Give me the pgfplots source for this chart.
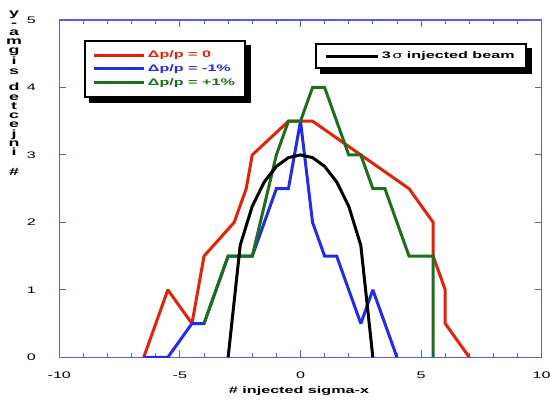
\documentclass[border=0pt]{standalone}
\usepackage{pgfplots}
\pgfplotsset{compat=1.18}
\usepackage{fontspec}
\setmainfont{Liberation Sans}[FakeStretch=1.7]
\definecolor{cred}{RGB}{225,35,10}
\definecolor{cblue}{RGB}{35,45,230}
\definecolor{cgreen}{RGB}{30,110,30}
\definecolor{caxis}{RGB}{85,95,228}
\pgfdeclarelayer{shadow}
\pgfsetlayers{shadow,main}
\begin{document}
\begin{tikzpicture}[x=1pt,y=1pt]
\useasboundingbox (-59.3,-46.7) rectangle (490.7,357.3);
\pgfplotsset{
  common/.style={
    width=482.4pt, height=337.3pt, scale only axis,
    at={(0pt,0pt)}, anchor=south west,
    xmin=-10, xmax=10, ymin=0, ymax=5,
  },
  ser/.style={line width=3pt, miter limit=2},
}
\begin{axis}[common,
  xtick={-10,-5,0,5,10},
  minor x tick num=4,
  ytick={0,1,2,3,4,5},
  tick align=inside,
  axis line style={caxis, line width=1.2pt},
  every tick/.style={caxis, line width=0.9pt},
  major tick length=7pt, minor tick length=4pt,
  tick label style={font=\fontsize{9.5}{11}\selectfont},
  /pgf/number format/assume math mode=true,
  xticklabel style={yshift=-11pt},
  yticklabel style={xshift=-20pt},
  xlabel={\bfseries\# injected sigma-x},
  xlabel style={at={(rel axis cs:0.5,0)}, anchor=base, yshift=-36pt, xshift=-1.5pt, font=\fontsize{9.5}{11}\selectfont},
  legend style={name=leg1, at={(rel axis cs:0.051,0.941)}, anchor=north west,
    draw=black, line width=2pt, fill=white,
    font=\bfseries\fontsize{9.5}{11}\selectfont,
    inner xsep=8pt, inner ysep=8pt, row sep=1.5pt,
    nodes={inner sep=2pt}},
  legend cell align=left,
  legend image code/.code={\draw[#1] (0pt,0pt) -- (50pt,0pt);},
]
\addplot[cred, ser] coordinates {
  (-6.5,0) (-5.5,1) (-4.5,0.5) (-4,1.5) (-2.75,2) (-2.25,2.5) (-2,3)
  (-0.5,3.5) (0.5,3.5) (2.5,3) (4.5,2.5) (5.5,2) (5.5,1.5) (6,1) (6,0.5) (7,0)};
\addlegendentry{\textcolor{cred}{Δp/p = 0}}
\addplot[cblue, ser] coordinates {
  (-6.5,0) (-5.5,0) (-4.5,0.5) (-4,0.5) (-3,1.5) (-2,1.5) (-1,2.5) (-0.5,2.5)
  (0,3.5) (0.5,2) (1,1.5) (1.5,1.5) (2.5,0.5) (3,1) (4,0)};
\addlegendentry{\textcolor{cblue}{Δp/p = -1\%}}
\addplot[cgreen, ser] coordinates {
  (-4,0.5) (-3,1.5) (-2,1.5) (-1,3) (-0.5,3.5) (0,3.5)
  (0.5,4) (1,4) (2,3) (2.5,3) (3,2.5) (3.5,2.5) (4.5,1.5) (5.5,1.5) (5.5,0)};
\addlegendentry{\textcolor{cgreen}{Δp/p = +1\%}}
\end{axis}
\begin{axis}[common, hide axis,
  legend style={name=leg2, at={(rel axis cs:0.530,0.932)}, anchor=north west,
    draw=black, line width=2pt, fill=white,
    font=\bfseries\fontsize{9.5}{11}\selectfont,
    inner xsep=9pt, inner ysep=6pt,
    nodes={inner sep=2pt}},
  legend image code/.code={\draw[#1] (0pt,0pt) -- (52pt,0pt);},
]
\addplot[black, line width=3pt, miter limit=2] coordinates {
  (-3,0) (-2.5,1.66) (-2,2.24) (-1.5,2.6) (-1,2.83) (-0.5,2.96) (0,3)
  (0.5,2.96) (1,2.83) (1.5,2.6) (2,2.24) (2.5,1.66) (3,0)};
\addlegendentry{3\,{\mdseries σ} injected beam}
\end{axis}
\begin{pgfonlayer}{shadow}
\fill[black] ([shift={(5pt,-5pt)}]leg1.south west) rectangle ([shift={(5pt,-5pt)}]leg1.north east);
\fill[black] ([shift={(5pt,-5pt)}]leg2.south west) rectangle ([shift={(5pt,-5pt)}]leg2.north east);
\end{pgfonlayer}
\node[anchor=north, inner sep=0pt, align=center,
  font=\bfseries\fontsize{10.5}{9.3}\selectfont] at (-45.3,346.3)
  {y\\-\\a\\m\\g\\i\\s\\[7.4pt]d\\e\\t\\c\\e\\j\\n\\i\\[10.7pt]\#};
\end{tikzpicture}
\end{document}
